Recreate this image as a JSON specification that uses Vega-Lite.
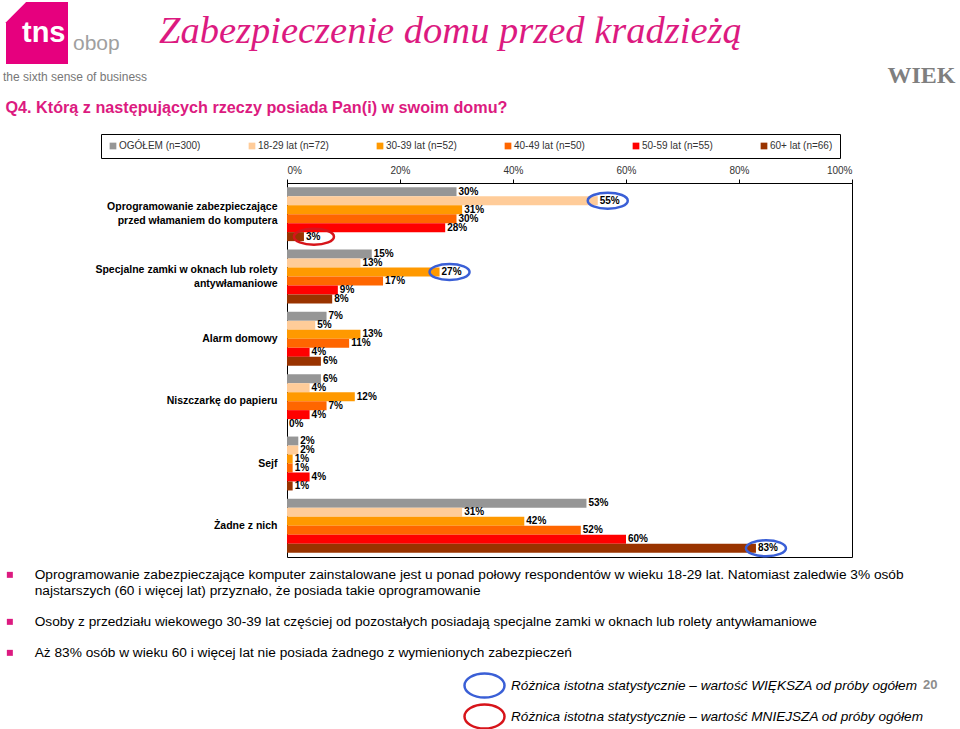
{
  "$schema": "https://vega.github.io/schema/vega-lite/v6.json",
  "width": 565,
  "height": 374,
  "autosize": "none",
  "padding": {"left": 287, "top": 183, "right": 108, "bottom": 172},
  "background": "white",
  "title": {
    "text": "Zabezpieczenie domu przed kradzieżą",
    "anchor": "start",
    "frame": "group",
    "dx": -128,
    "dy": 62,
    "offset": 13,
    "font": "Liberation Serif",
    "fontStyle": "italic",
    "fontWeight": "normal",
    "fontSize": 38.5,
    "color": "#DC1A80"
  },
  "config": {
    "font": "Liberation Sans",
    "view": {"stroke": "#000", "strokeWidth": 1},
    "axis": {"labelFont": "Liberation Sans", "titleFont": "Liberation Sans", "grid": false},
    "legend": {"labelFont": "Liberation Sans", "titleFont": "Liberation Sans"}
  },
  "datasets": {
    "wyniki": [
      {"kategoria": "Oprogramowanie zabezpieczające przed włamaniem do komputera", "grupa": "OGÓŁEM (n=300)", "wartosc": 0.30},
      {"kategoria": "Oprogramowanie zabezpieczające przed włamaniem do komputera", "grupa": "18-29 lat (n=72)", "wartosc": 0.55},
      {"kategoria": "Oprogramowanie zabezpieczające przed włamaniem do komputera", "grupa": "30-39 lat (n=52)", "wartosc": 0.31},
      {"kategoria": "Oprogramowanie zabezpieczające przed włamaniem do komputera", "grupa": "40-49 lat (n=50)", "wartosc": 0.30},
      {"kategoria": "Oprogramowanie zabezpieczające przed włamaniem do komputera", "grupa": "50-59 lat (n=55)", "wartosc": 0.28},
      {"kategoria": "Oprogramowanie zabezpieczające przed włamaniem do komputera", "grupa": "60+ lat (n=66)", "wartosc": 0.03},
      {"kategoria": "Specjalne zamki w oknach lub rolety antywłamaniowe", "grupa": "OGÓŁEM (n=300)", "wartosc": 0.15},
      {"kategoria": "Specjalne zamki w oknach lub rolety antywłamaniowe", "grupa": "18-29 lat (n=72)", "wartosc": 0.13},
      {"kategoria": "Specjalne zamki w oknach lub rolety antywłamaniowe", "grupa": "30-39 lat (n=52)", "wartosc": 0.27},
      {"kategoria": "Specjalne zamki w oknach lub rolety antywłamaniowe", "grupa": "40-49 lat (n=50)", "wartosc": 0.17},
      {"kategoria": "Specjalne zamki w oknach lub rolety antywłamaniowe", "grupa": "50-59 lat (n=55)", "wartosc": 0.09},
      {"kategoria": "Specjalne zamki w oknach lub rolety antywłamaniowe", "grupa": "60+ lat (n=66)", "wartosc": 0.08},
      {"kategoria": "Alarm domowy", "grupa": "OGÓŁEM (n=300)", "wartosc": 0.07},
      {"kategoria": "Alarm domowy", "grupa": "18-29 lat (n=72)", "wartosc": 0.05},
      {"kategoria": "Alarm domowy", "grupa": "30-39 lat (n=52)", "wartosc": 0.13},
      {"kategoria": "Alarm domowy", "grupa": "40-49 lat (n=50)", "wartosc": 0.11},
      {"kategoria": "Alarm domowy", "grupa": "50-59 lat (n=55)", "wartosc": 0.04},
      {"kategoria": "Alarm domowy", "grupa": "60+ lat (n=66)", "wartosc": 0.06},
      {"kategoria": "Niszczarkę do papieru", "grupa": "OGÓŁEM (n=300)", "wartosc": 0.06},
      {"kategoria": "Niszczarkę do papieru", "grupa": "18-29 lat (n=72)", "wartosc": 0.04},
      {"kategoria": "Niszczarkę do papieru", "grupa": "30-39 lat (n=52)", "wartosc": 0.12},
      {"kategoria": "Niszczarkę do papieru", "grupa": "40-49 lat (n=50)", "wartosc": 0.07},
      {"kategoria": "Niszczarkę do papieru", "grupa": "50-59 lat (n=55)", "wartosc": 0.04},
      {"kategoria": "Niszczarkę do papieru", "grupa": "60+ lat (n=66)", "wartosc": 0.0},
      {"kategoria": "Sejf", "grupa": "OGÓŁEM (n=300)", "wartosc": 0.02},
      {"kategoria": "Sejf", "grupa": "18-29 lat (n=72)", "wartosc": 0.02},
      {"kategoria": "Sejf", "grupa": "30-39 lat (n=52)", "wartosc": 0.01},
      {"kategoria": "Sejf", "grupa": "40-49 lat (n=50)", "wartosc": 0.01},
      {"kategoria": "Sejf", "grupa": "50-59 lat (n=55)", "wartosc": 0.04},
      {"kategoria": "Sejf", "grupa": "60+ lat (n=66)", "wartosc": 0.01},
      {"kategoria": "Żadne z nich", "grupa": "OGÓŁEM (n=300)", "wartosc": 0.53},
      {"kategoria": "Żadne z nich", "grupa": "18-29 lat (n=72)", "wartosc": 0.31},
      {"kategoria": "Żadne z nich", "grupa": "30-39 lat (n=52)", "wartosc": 0.42},
      {"kategoria": "Żadne z nich", "grupa": "40-49 lat (n=50)", "wartosc": 0.52},
      {"kategoria": "Żadne z nich", "grupa": "50-59 lat (n=55)", "wartosc": 0.60},
      {"kategoria": "Żadne z nich", "grupa": "60+ lat (n=66)", "wartosc": 0.83}
    ],
    "istotne": [
      {"kategoria": "Oprogramowanie zabezpieczające przed włamaniem do komputera", "grupa": "18-29 lat (n=72)", "wartosc": 0.55, "roznica": "Różnica istotna statystycznie – wartość WIĘKSZA od próby ogółem"},
      {"kategoria": "Oprogramowanie zabezpieczające przed włamaniem do komputera", "grupa": "60+ lat (n=66)", "wartosc": 0.03, "roznica": "Różnica istotna statystycznie – wartość MNIEJSZA od próby ogółem"},
      {"kategoria": "Specjalne zamki w oknach lub rolety antywłamaniowe", "grupa": "30-39 lat (n=52)", "wartosc": 0.27, "roznica": "Różnica istotna statystycznie – wartość WIĘKSZA od próby ogółem"},
      {"kategoria": "Żadne z nich", "grupa": "60+ lat (n=66)", "wartosc": 0.83, "roznica": "Różnica istotna statystycznie – wartość WIĘKSZA od próby ogółem"}
    ],
    "wnioski": [
      {"wniosek": "Oprogramowanie zabezpieczające komputer zainstalowane jest u ponad połowy respondentów w wieku 18-29 lat. Natomiast zaledwie 3% osób\nnajstarszych (60 i więcej lat) przyznało, że posiada takie oprogramowanie"},
      {"wniosek": "Osoby z przedziału wiekowego 30-39 lat częściej od pozostałych posiadają specjalne zamki w oknach lub rolety antywłamaniowe"},
      {"wniosek": "Aż 83% osób w wieku 60 i więcej lat nie posiada żadnego z wymienionych zabezpieczeń"}
    ],
    "marka": [
      {"marka": "obop"}
    ]
  },
  "layer": [
    {
      "data": {"name": "wyniki"},
      "mark": {"type": "bar"},
      "encoding": {
        "y": {
          "field": "kategoria",
          "type": "nominal",
          "scale": {
            "domain": ["Oprogramowanie zabezpieczające przed włamaniem do komputera", "Specjalne zamki w oknach lub rolety antywłamaniowe", "Alarm domowy", "Niszczarkę do papieru", "Sejf", "Żadne z nich"],
            "paddingInner": 0.135,
            "paddingOuter": 0.0675
          },
          "axis": {
            "orient": "left",
            "ticks": false,
            "domain": false,
            "labelPadding": 10,
            "labelFontSize": 10.5,
            "labelFontWeight": "bold",
            "labelColor": "#000",
            "labelLimit": 300,
            "labelLineHeight": 14,
            "labelOffset": {"condition": {"test": "indexof(datum.label, 'Oprogramowanie') == 0 || indexof(datum.label, 'Specjalne') == 0", "value": -7}, "value": 0},
            "labelExpr": "indexof(datum.label, 'Oprogramowanie') == 0 ? ['Oprogramowanie zabezpieczające', 'przed włamaniem do komputera\u00a0\u00a0'] : indexof(datum.label, 'Specjalne') == 0 ? ['Specjalne zamki w oknach lub rolety', 'antywłamaniowe\u00a0\u00a0\u00a0\u00a0\u00a0\u00a0\u00a0\u00a0\u00a0\u00a0\u00a0\u00a0\u00a0\u00a0\u00a0\u00a0\u00a0'] : datum.label",
            "title": "Q4. Którą z następujących rzeczy posiada Pan(i) w swoim domu?",
            "titleAngle": 0,
            "titleX": -282,
            "titleY": -76,
            "titleAlign": "left",
            "titleBaseline": "middle",
            "titleFontSize": 16.2,
            "titleFontWeight": "bold",
            "titleColor": "#DC1A80"
          }
        },
        "x": {
          "field": "wartosc",
          "type": "quantitative",
          "scale": {"domain": [0, 1]},
          "axis": {
            "orient": "top",
            "values": [0, 0.2, 0.4, 0.6, 0.8, 1],
            "format": ".0%",
            "domainColor": "#000",
            "tickColor": "#000",
            "tickSize": 4,
            "labelFontSize": 10,
            "labelColor": "#333",
            "labelPadding": 4,
            "title": "WIEK",
            "titleX": 668,
            "titleY": -101,
            "titleAlign": "right",
            "titleBaseline": "alphabetic",
            "titleAngle": 0,
            "titleFont": "Liberation Serif",
            "titleFontSize": 24,
            "titleFontWeight": "bold",
            "titleColor": "#7F7F7F"
          }
        },
        "yOffset": {
          "field": "grupa",
          "type": "nominal",
          "scale": {"domain": ["OGÓŁEM (n=300)", "18-29 lat (n=72)", "30-39 lat (n=52)", "40-49 lat (n=50)", "50-59 lat (n=55)", "60+ lat (n=66)"], "paddingInner": 0, "paddingOuter": 0}
        },
        "color": {
          "field": "grupa",
          "type": "nominal",
          "scale": {
            "domain": ["OGÓŁEM (n=300)", "18-29 lat (n=72)", "30-39 lat (n=52)", "40-49 lat (n=50)", "50-59 lat (n=55)", "60+ lat (n=66)"],
            "range": ["#969696", "#FFCC99", "#FF9900", "#FF6600", "#FF0000", "#993300"]
          },
          "legend": {
            "orient": "none",
            "legendX": -186,
            "legendY": -49,
            "direction": "horizontal",
            "columns": 6,
            "gridAlign": "none",
            "columnPadding": 46,
            "padding": 7,
            "strokeColor": "#000",
            "symbolType": "square",
            "symbolSize": 45,
            "labelFontSize": 10,
            "labelColor": "#333",
            "labelOffset": 1,
            "title": null
          }
        }
      }
    },
    {
      "data": {"name": "wyniki"},
      "mark": {"type": "text", "align": "left", "baseline": "middle", "dx": 2, "fontSize": 10, "fontWeight": "bold", "color": "#000"},
      "encoding": {
        "y": {"field": "kategoria", "type": "nominal"},
        "x": {"field": "wartosc", "type": "quantitative"},
        "yOffset": {"field": "grupa", "type": "nominal"},
        "text": {"field": "wartosc", "type": "quantitative", "format": ".0%"}
      }
    },
    {
      "data": {"name": "istotne"},
      "mark": {"type": "point", "shape": "M -1 0 C -1 -0.221 -0.552 -0.4 0 -0.4 C 0.552 -0.4 1 -0.221 1 0 C 1 0.221 0.552 0.4 0 0.4 C -0.552 0.4 -1 0.221 -1 0 Z", "size": 1600, "strokeWidth": 2.5, "filled": false, "opacity": 1, "xOffset": 10},
      "encoding": {
        "y": {"field": "kategoria", "type": "nominal"},
        "x": {"field": "wartosc", "type": "quantitative"},
        "yOffset": {"field": "grupa", "type": "nominal"},
        "stroke": {
          "field": "roznica",
          "type": "nominal",
          "scale": {
            "domain": ["Różnica istotna statystycznie – wartość WIĘKSZA od próby ogółem", "Różnica istotna statystycznie – wartość MNIEJSZA od próby ogółem"],
            "range": ["#3A5FD6", "#D7141A"]
          },
          "legend": {
            "orient": "none",
            "legendX": 184,
            "legendY": 489,
            "direction": "vertical",
            "title": ["", "20"],
            "titleOrient": "right",
            "titleAnchor": "start",
            "titleBaseline": "middle",
            "titleLineHeight": 13,
            "titleFontSize": 13,
            "titleFontWeight": "bold",
            "titleColor": "#8C8C8C",
            "titlePadding": -1,
            "symbolType": "M -1.667 0 C -1.667 -0.552 -0.921 -1 0 -1 C 0.921 -1 1.667 -0.552 1.667 0 C 1.667 0.552 0.921 1 0 1 C -0.921 1 -1.667 0.552 -1.667 0 Z",
            "symbolSize": 576,
            "symbolStrokeWidth": 2.5,
            "symbolFillColor": "transparent",
            "labelFontSize": 13.6,
            "labelFontStyle": "italic",
            "labelColor": "#000",
            "labelOffset": 13,
            "labelLimit": 600,
            "rowPadding": -10,
            "padding": 0
          }
        }
      }
    },
    {
      "data": {"name": "wnioski"},
      "mark": {"type": "point", "filled": true, "color": "#DC1A80", "opacity": 0},
      "encoding": {
        "shape": {
          "field": "wniosek",
          "type": "nominal",
          "sort": null,
          "scale": {"range": ["square", "square", "square"]},
          "legend": {
            "orient": "none",
            "legendX": -284,
            "legendY": -111,
            "direction": "vertical",
            "title": "the sixth sense of business",
            "titleOrient": "top",
            "titleBaseline": "top",
            "titleFontSize": 12,
            "titleFontWeight": "normal",
            "titleColor": "#777",
            "titlePadding": 484,
            "symbolType": "square",
            "symbolSize": 36,
            "symbolFillColor": "#DC1A80",
            "symbolStrokeColor": "#DC1A80",
            "symbolOpacity": 1,
            "labelFontSize": 13.7,
            "labelColor": "#000",
            "labelOffset": 18,
            "labelLimit": 1000,
            "labelLineHeight": 16,
            "labelExpr": "split(datum.label, '\\n')",
            "rowPadding": 16,
            "padding": 0
          }
        }
      }
    },
    {
      "data": {"name": "marka"},
      "mark": {"type": "point", "filled": true, "color": "#E6007E", "opacity": 0},
      "encoding": {
        "strokeDash": {
          "field": "marka",
          "type": "nominal",
          "scale": {"range": [[1, 0]]},
          "legend": {
            "orient": "none",
            "legendX": -265,
            "legendY": -181,
            "direction": "vertical",
            "title": "tns",
            "titleOrient": "left",
            "titleAnchor": "middle",
            "titleBaseline": "middle",
            "titleFontSize": 29,
            "titleFontWeight": "bold",
            "titleColor": "#FFFFFF",
            "titlePadding": -60,
            "symbolType": "M -1 -0.35 L -0.35 -1 L 1 -1 L 1 1 L -1 1 Z",
            "symbolSize": 3844,
            "symbolFillColor": "#E6007E",
            "symbolStrokeColor": "#E6007E",
            "symbolStrokeWidth": 0,
            "symbolOpacity": 1,
            "labelFontSize": 21,
            "labelColor": "#A0A0A0",
            "labelBaseline": "top",
            "labelOffset": 5,
            "padding": 0
          }
        }
      }
    }
  ]
}
